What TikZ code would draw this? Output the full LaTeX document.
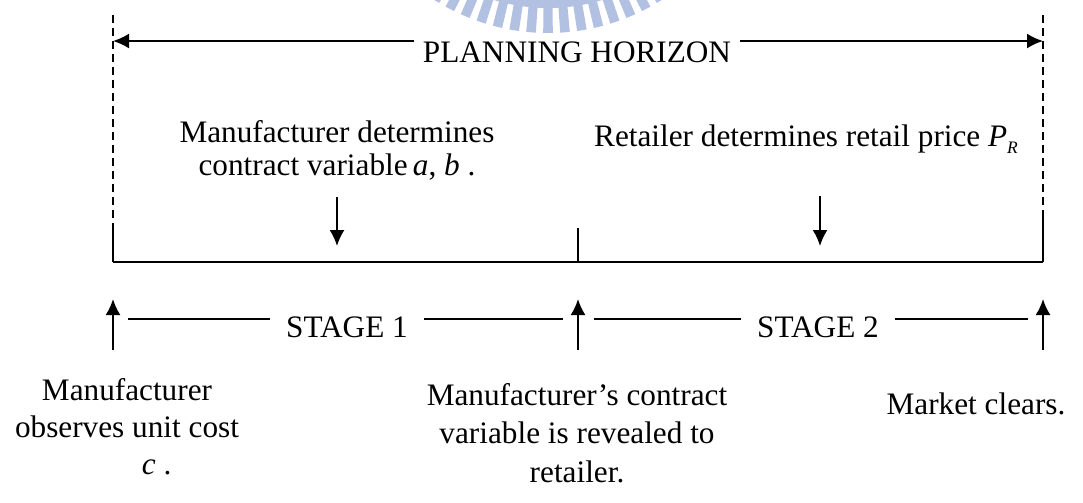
\documentclass[tikz,border=0pt]{standalone}
\usepackage{fontspec}
\setmainfont{Liberation Serif}
\usetikzlibrary{arrows.meta}
\definecolor{logoblue}{RGB}{178,192,226}
\begin{document}
\begin{tikzpicture}[x=0.4pt, y=-0.4pt,
    line width=0.8pt,
    label/.style={inner sep=0pt, font=\fontsize{12.5}{14.8}\selectfont, align=center},
    tip/.style={-{Latex[length=6.4pt,width=6pt]}},
    guide/.style={dash pattern=on 3.2pt off 2pt}
]
    \useasboundingbox (0,0) rectangle (1083,502);

    % Logo ring with its teeth
    \coordinate (logo) at (548,-179);
    \fill[logoblue] ([shift={(logo)}]50:176) arc[start angle=50, end angle=130, radius=176]
        -- ([shift={(logo)}]130:187) arc[start angle=130, end angle=50, radius=187] -- cycle;
    \foreach \a in {53.2,57.8,...,126.8}
        \fill[logoblue] ([shift={(logo)}]\a-1.4:186) arc[start angle=\a-1.4, end angle=\a+1.4, radius=186]
            -- ([shift={(logo)}]\a+1.3:212) arc[start angle=\a+1.3, end angle=\a-1.3, radius=212] -- cycle;

    % Planning horizon
    \node[label, anchor=base, inner xsep=3pt] (horizon) at (577,62) {PLANNING HORIZON};
    \coordinate (hzleft) at (113,41);
    \coordinate (hzright) at (1043,41);
    \draw[tip] (horizon.west |- hzleft) -- (hzleft);
    \draw[tip] (horizon.east |- hzright) -- (hzright);
    \draw[guide] (113,15) -- (113,228);
    \draw[guide] (1043,15) -- (1043,218);

    % Time line
    \coordinate (t0) at (113,262);
    \coordinate (t1) at (578,262);
    \coordinate (t2) at (1043,262);
    \draw (t0) -- (t2);
    \draw (t0) -- ++(0,-34);
    \draw (t1) -- ++(0,-34);
    \draw (t2) -- ++(0,-44);
    \foreach \t in {t0,t1,t2}
        \draw[tip] (\t) ++(0,88) -- ++(0,-51);

    % Stages
    \node[label, anchor=base, inner xsep=6pt] (stage1) at (347,337) {STAGE 1};
    \node[label, anchor=base, inner xsep=6pt] (stage2) at (818,337) {STAGE 2};
    \coordinate (s1a) at (128,319);
    \coordinate (s1b) at (563,319);
    \coordinate (s2a) at (594,319);
    \coordinate (s2b) at (1028,319);
    \draw (s1a) -- (s1a -| stage1.west);
    \draw (stage1.east |- s1b) -- (s1b);
    \draw (s2a) -- (s2a -| stage2.west);
    \draw (stage2.east |- s2b) -- (s2b);

    % Decisions
    \node[label, anchor=north, font=\fontsize{12.5}{13.2}\selectfont] (mfrset) at (337,119) {Manufacturer determines\\contract variable\,\textit{a},\ \textit{b}\ .};
    \node[label, anchor=north] (retset) at (806,124) {Retailer determines retail price \textit{P}\raisebox{-0.5ex}{\scriptsize\textit{R}}};
    \draw[tip] (337,197) -- (337,246);
    \draw[tip] (820,196) -- (820,246);

    % Events
    \node[label, anchor=north] (mfrcost) at (127,377) {Manufacturer\\observes unit cost\\\hspace*{1.9em}\textit{c}\ .};
    \node[label, anchor=north, font=\fontsize{12.5}{15.4}\selectfont] (reveal) at (577,382) {Manufacturer’s contract\\variable is revealed to\\retailer.};
    \node[label, anchor=north] (clear) at (976,392) {Market clears.};
\end{tikzpicture}
\end{document}
